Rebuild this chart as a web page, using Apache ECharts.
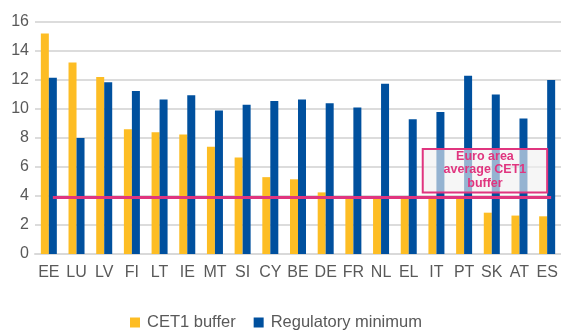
<!DOCTYPE html>
<html>
<head>
<meta charset="utf-8">
<script src="https://cdn.jsdelivr.net/npm/echarts@6/dist/echarts.min.js"></script>
<style>
  html, body { margin: 0; padding: 0; background: #fff; }
  #chart { width: 561px; height: 332px; }
</style>
</head>
<body>
<div id="chart"></div>
<script>
// Country codes along the x axis
const countries = ['EE', 'LU', 'LV', 'FI', 'LT', 'IE', 'MT', 'SI', 'CY', 'BE',
                   'DE', 'FR', 'NL', 'EL', 'IT', 'PT', 'SK', 'AT', 'ES'];
// CET1 buffer above requirements (% of RWA)
const cet1Buffer = [15.2, 13.2, 12.2, 8.6, 8.4, 8.25, 7.4, 6.65, 5.3, 5.15,
                    4.25, 3.95, 3.9, 3.9, 3.95, 3.9, 2.85, 2.65, 2.6];
// Regulatory minimum (% of RWA)
const regMinimum = [12.15, 8.0, 11.85, 11.25, 10.65, 10.95, 9.9, 10.3, 10.55, 10.65,
                    10.4, 10.1, 11.75, 9.3, 9.8, 12.3, 11.0, 9.35, 12.0];
// Euro area average CET1 buffer
const euroAvg = 3.9;
const yTicks = { min: 0, max: 16, interval: 2 };

const grey = '#595959';
const pink = '#e0357f';

const chart = echarts.init(document.getElementById('chart'));
chart.setOption({
  animation: false,
  textStyle: { fontFamily: 'Liberation Sans, Arial, sans-serif' },
  grid: { left: 35, top: 22, width: 529, height: 232, containLabel: false },
  xAxis: {
    type: 'category',
    data: countries,
    axisLine: { show: true, lineStyle: { color: '#d9d9d9', width: 2 } },
    axisTick: { show: false },
    axisLabel: { color: grey, fontSize: 16, margin: 11, interval: 0 }
  },
  yAxis: {
    type: 'value',
    min: yTicks.min, max: yTicks.max, interval: yTicks.interval,
    axisLine: { show: false },
    axisTick: { show: false },
    axisLabel: { color: grey, fontSize: 16, margin: 6 },
    splitLine: { lineStyle: { color: '#dcdcdc', width: 2 } }
  },
  legend: {
    top: 309,
    left: 125,
    icon: 'rect',
    itemWidth: 10, itemHeight: 10,
    itemGap: 18,
    textStyle: { color: grey, fontSize: 16.5, padding: [0, 0, 0, 2] },
    data: ['CET1 buffer', 'Regulatory minimum']
  },
  series: [
    {
      name: 'CET1 buffer',
      type: 'bar',
      data: cet1Buffer,
      barWidth: 8,
      barGap: '0%',
      itemStyle: { color: '#fdbd24' }
    },
    {
      name: 'Regulatory minimum',
      type: 'bar',
      data: regMinimum,
      barWidth: 8,
      itemStyle: { color: '#00509e' },
      markLine: {
        symbol: 'none',
        silent: true,
        z: 10,
        label: { show: false },
        lineStyle: { color: pink, width: 3, type: 'solid' },
        data: [[
          { coord: [countries[0], euroAvg] },
          { coord: [countries[countries.length - 1], euroAvg] }
        ]]
      }
    }
  ]
});

// Annotation box for the average line, placed against the axes
const boxTL = chart.convertToPixel({ gridIndex: 0 }, ['EL', 7.25]);
const boxBR = chart.convertToPixel({ gridIndex: 0 }, ['ES', 4.25]);
const boxX = boxTL[0] + 14, boxY = boxTL[1];
const boxW = boxBR[0] - boxX, boxH = boxBR[1] - boxY;
chart.setOption({
  graphic: [
    {
      type: 'rect',
      z: 100,
      zlevel: 1,
      shape: { x: boxX, y: boxY, width: boxW, height: boxH },
      style: { fill: 'rgba(240,240,240,0.62)', stroke: pink, lineWidth: 2 }
    },
    {
      type: 'text',
      z: 101,
      zlevel: 1,
      x: boxX + boxW / 2, y: boxY + boxH / 2 - 1,
      style: {
        text: 'Euro area\naverage CET1\nbuffer',
        fill: pink,
        font: 'bold 12.5px Liberation Sans, Arial, sans-serif',
        align: 'center',
        verticalAlign: 'middle',
        lineHeight: 13.5
      }
    }
  ]
});
</script>
</body>
</html>
